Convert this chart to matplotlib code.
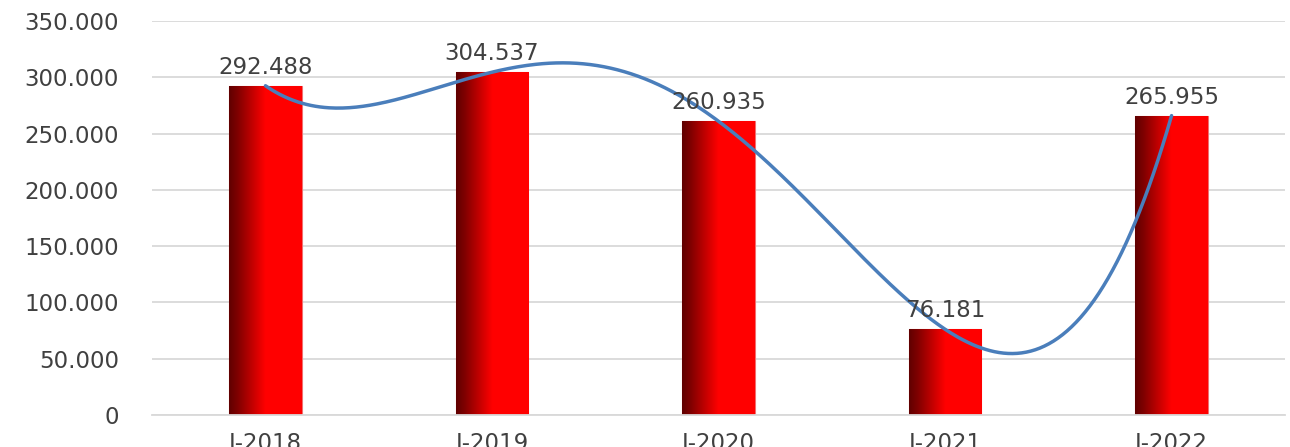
import matplotlib
matplotlib.use("Agg")
import matplotlib.pyplot as plt
import numpy as np
from matplotlib.colors import LinearSegmentedColormap

categories = ["I-2018", "I-2019", "I-2020", "I-2021", "I-2022"]
values = [292488, 304537, 260935, 76181, 265955]
y_ticks = [0, 50000, 100000, 150000, 200000, 250000, 300000, 350000]

TEXT = "#404040"
GRID = "#d9d9d9"
LINE = "#4a7ebb"


def fmt(v):
    # thousands separated by a dot
    return f"{v:,.0f}".replace(",", ".")


plt.rcParams["font.family"] = ["DejaVu Sans"]

fig = plt.figure(figsize=(12.9, 4.47), dpi=100)
ax = fig.add_axes([0.118, 0.0716, 0.878, 0.8814])

x = np.arange(len(categories))
bars = ax.bar(x, values, width=0.32, color="#ff0000", edgecolor="#f07070",
              linewidth=0.8, zorder=2)

# dark-to-red shading on the left part of each bar
shade = LinearSegmentedColormap.from_list(
    "shade", [(0, "#600000"), (0.12, "#800000"), (0.5, "#ff0000"),
              (1, "#ff0000")])
grad = np.linspace(0, 1, 256).reshape(1, -1)
for bar in bars:
    x0, y0 = bar.get_x(), bar.get_y()
    im = ax.imshow(grad, cmap=shade, aspect="auto", zorder=2.5,
                   extent=(x0, x0 + bar.get_width(), y0, y0 + bar.get_height()))
    im.set_clip_path(bar)

# order-4 polynomial trendline through the five points
coef = np.polyfit(x, values, 4)
xs = np.linspace(x[0], x[-1], 400)
ax.plot(xs, np.polyval(coef, xs), color=LINE, linewidth=2.5, zorder=3,
        solid_capstyle="round")

for xi, v in zip(x, values):
    ax.annotate(fmt(v), (xi, v), xytext=(0, 5), textcoords="offset points",
                ha="center", va="bottom", fontsize=16.5, color=TEXT, zorder=4)

ax.set_xlim(-0.5, len(categories) - 0.5)
ax.set_ylim(0, 350000)
ax.set_yticks(y_ticks)
ax.set_yticklabels([fmt(v) for v in y_ticks])
ax.set_xticks(x)
ax.set_xticklabels(categories)
ax.tick_params(axis="y", length=0, pad=24, labelsize=16.5, labelcolor=TEXT)
ax.tick_params(axis="x", length=0, pad=12, labelsize=16.5, labelcolor=TEXT)

ax.grid(axis="y", color=GRID, linewidth=1.3, zorder=0)
ax.set_axisbelow(True)
for side in ["top", "right", "left"]:
    ax.spines[side].set_visible(False)
ax.spines["bottom"].set_color(GRID)
ax.spines["bottom"].set_linewidth(1.3)

fig.savefig("out.png", dpi=100)
